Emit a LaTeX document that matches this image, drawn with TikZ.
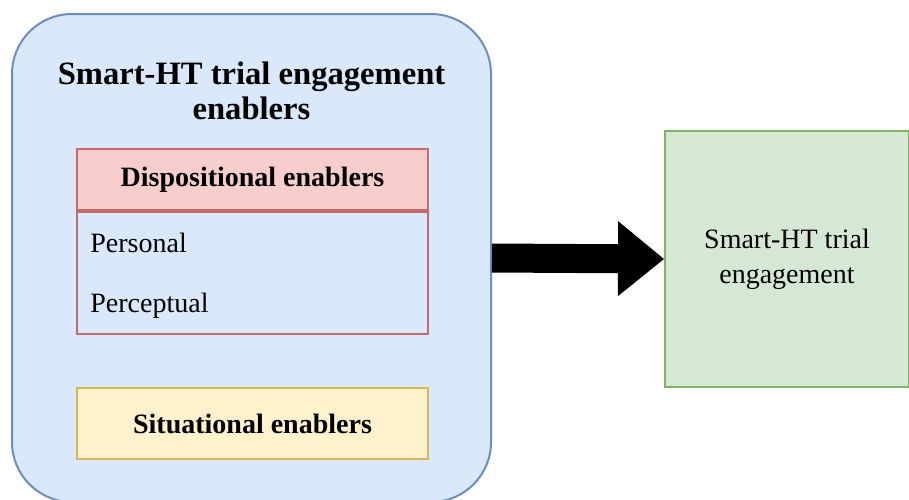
\documentclass[tikz,border=0pt]{standalone}
\usepackage{fontspec}
\setmainfont{Liberation Serif}
\usetikzlibrary{arrows.meta}

\definecolor{laneblue}{HTML}{DAE8FC}
\definecolor{laneblueline}{HTML}{6C8EBF}
\definecolor{dispred}{HTML}{F8CECC}
\definecolor{dispredline}{HTML}{C76A6C}
\definecolor{situyellow}{HTML}{FFF2CC}
\definecolor{situyellowline}{HTML}{D6B656}
\definecolor{outgreen}{HTML}{D5E8D4}
\definecolor{outgreenline}{HTML}{82B366}

\tikzset{
  plainbox/.style={draw, line width=1pt, inner sep=0pt, align=center,
    font=\fontsize{14pt}{17.5pt}\selectfont},
  enablerlane/.style={plainbox, fill=laneblue, draw=laneblueline, rounded corners=30pt},
  lanetitle/.style={align=center, font=\fontsize{16.3pt}{17.5pt}\selectfont\bfseries},
  disphead/.style={plainbox, fill=dispred, draw=dispredline, font=\fontsize{14pt}{17.5pt}\selectfont\bfseries},
  dispbody/.style={plainbox, draw=dispredline},
  enableritem/.style={inner sep=0pt, font=\fontsize{14pt}{17.5pt}\selectfont},
  situbox/.style={plainbox, fill=situyellow, draw=situyellowline, font=\fontsize{14pt}{17.5pt}\selectfont\bfseries},
  outcomebox/.style={plainbox, fill=outgreen, draw=outgreenline},
  bigarrow/.style={line width=14.5pt, -{Triangle[length=23pt,width=37.5pt,line width=0pt]}}
}

\begin{document}
\begin{tikzpicture}
    \useasboundingbox (0,0) rectangle (454.5pt,-249.5pt);
    \clip (0,0) rectangle (454.5pt,-249.5pt);

    % left lane with the enablers
    \node[enablerlane, minimum width=239.5pt, minimum height=244pt] (enablers) at (125.75pt,-129pt) {};
    \node[lanetitle] (title) at (125.75pt,-45.25pt) {Smart-HT trial engagement\\enablers};

    \node[disphead, minimum width=175.5pt, minimum height=30.5pt, anchor=north west] (disphead) at (38pt,-74pt) {Dispositional enablers};
    \node[dispbody, minimum width=175.5pt, minimum height=61pt, anchor=north] (dispbody) at (disphead.south) {};
    \node[enableritem, anchor=base west] (personal) at (45pt,-126pt) {Personal};
    \node[enableritem, anchor=base west] (perceptual) at (45pt,-156pt) {Perceptual};

    \node[situbox, minimum width=175.5pt, minimum height=35.5pt, anchor=north west] (situational) at (38pt,-193.5pt) {Situational enablers};

    % outcome
    \node[outcomebox, minimum width=122pt, minimum height=128pt, anchor=north west] (engagement) at (332pt,-65pt) {Smart-HT trial\\engagement};

    \draw[bigarrow] (enablers.east) -- (engagement.west);
\end{tikzpicture}
\end{document}
